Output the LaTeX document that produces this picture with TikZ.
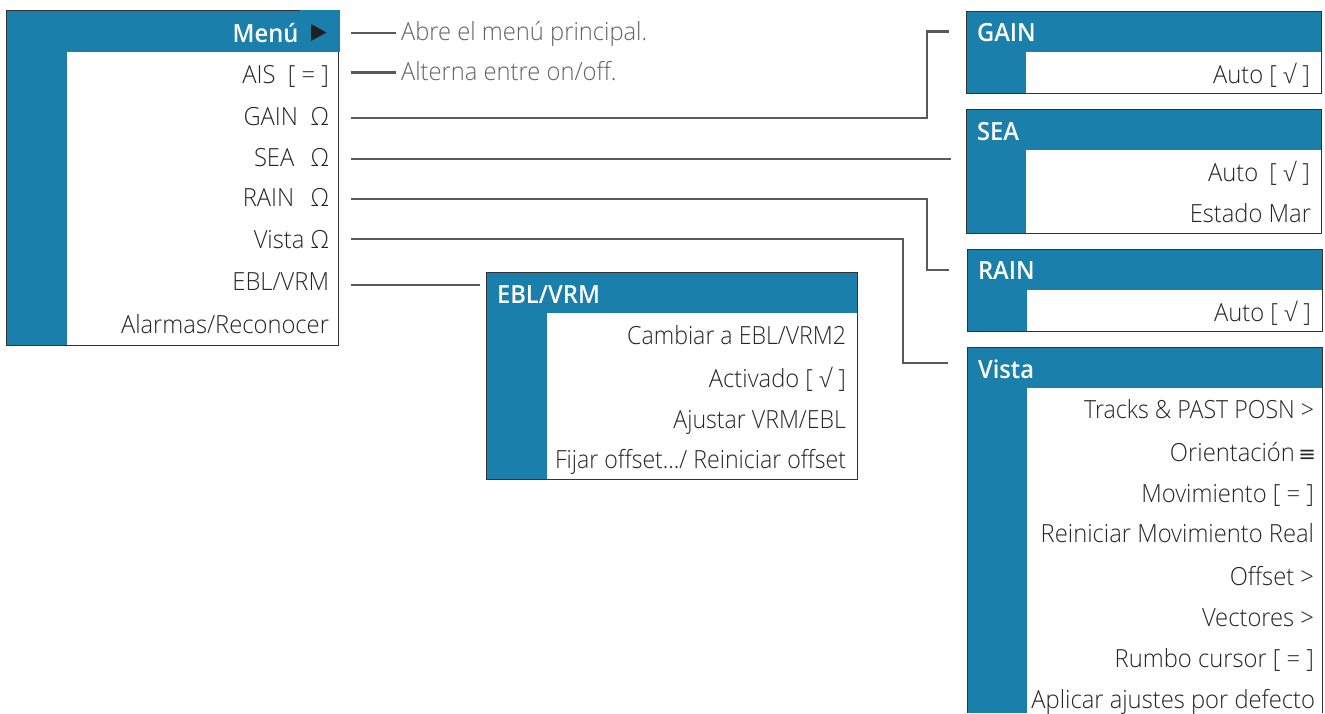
\documentclass[tikz,border=0pt]{standalone}
\usepackage{fontspec}
\setmainfont{Open Sans Light}[BoldFont={Open Sans Semibold},FakeStretch=0.95]
\newfontface\narrowf{Open Sans Light}[FakeStretch=0.925]
\newfontfamily\symf{DejaVu Sans}
\definecolor{menublue}{RGB}{26,127,171}
\definecolor{frameg}{RGB}{51,51,53}
\definecolor{linkg}{RGB}{88,89,91}
\definecolor{itemg}{RGB}{38,38,40}
\definecolor{noteg}{RGB}{100,100,103}
\tikzset{
 panelbox/.style={draw=frameg,line width=1pt,fill=menublue,inner sep=0pt,outer sep=0pt,anchor=north west},
 inner/.style={fill=white,draw=none,inner sep=0pt,outer sep=0pt,anchor=north west},
 txt/.style={inner sep=0pt,outer sep=0pt,text height=19pt,text depth=5pt,font=\fontsize{25}{28}\selectfont},
 item/.style={txt,anchor=east,text=itemg},
 itemn/.style={item,font=\fontsize{25}{28}\narrowf},
 note/.style={txt,anchor=west,text=noteg},
 title/.style={txt,anchor=west,text=white,font=\fontsize{25}{28}\selectfont\bfseries},
 link/.style={draw=linkg,line width=2.2pt}
}
\begin{document}
\begin{tikzpicture}[x=1pt,y=-1pt]
\useasboundingbox (0,0) rectangle (1325,713);
% main menu
\node[panelbox,minimum width=332pt,minimum height=335pt] (mainP) at (6,10) {};
\node[inner,minimum width=270.5pt,minimum height=292.5pt] (mainW) at (67,52) {};
\fill[menublue] (300,10) rectangle (339.5,52);
\node[title,anchor=east] (menu) at (298.5,35) {Menú};
\fill[black!88] (311,24) -- (326.5,32.5) -- (311,41) -- cycle;
\node[item] (ais) at (329,76) {AIS\hspace{0.5em}[ = ]};
\node[item] (gain) at (329,118) {GAIN\hspace{0.5em}Ω};
\node[item] (sea) at (329,159) {SEA\hspace{0.65em}Ω};
\node[item] (rain) at (329,199) {RAIN\hspace{0.65em}Ω};
\node[item] (vista) at (329,241) {Vista Ω};
\node[item] (ebl) at (329,283) {EBL/VRM};
\node[item] (alarm) at (329,326) {Alarmas/Reconocer};
% notes
\node[note] (n1) at (401,33) {Abre el menú principal.};
\node[note] (n2) at (401,73) {Alterna entre on/off.};
% GAIN
\node[panelbox,minimum width=355.5pt,minimum height=82pt] (gainP) at (966,11) {};
\node[inner,minimum width=295pt,minimum height=40.5pt] (gainW) at (1026,52) {};
\node[title] (gainT) at (977,34) {GAIN};
\node[item] (gainA) at (1310,76) {Auto [ √ ]};
% SEA
\node[panelbox,minimum width=355.5pt,minimum height=124pt] (seaP) at (966,109) {};
\node[inner,minimum width=295pt,minimum height=82.5pt] (seaW) at (1026,150) {};
\node[title] (seaT) at (977,133) {SEA};
\node[item] (seaA) at (1310,174) {Auto\hspace{0.45em}[ √ ]};
\node[item] (seaM) at (1311,215) {Estado Mar};
% RAIN
\node[panelbox,minimum width=355.5pt,minimum height=82pt] (rainP) at (967,249) {};
\node[inner,minimum width=295pt,minimum height=40.5pt] (rainW) at (1027,290) {};
\node[title] (rainT) at (978,272) {RAIN};
\node[item] (rainA) at (1311,314) {Auto [ √ ]};
% EBL
\node[panelbox,minimum width=371pt,minimum height=207pt] (eblP) at (486,272) {};
\node[inner,minimum width=309.5pt,minimum height=165.5pt] (eblW) at (547,313) {};
\node[title] (eblT) at (497,296) {EBL/VRM};
\node[itemn] (e1) at (846,337) {Cambiar a EBL/VRM2};
\node[item] (e2) at (846,380) {Activado [ √ ]};
\node[itemn] (e3) at (846,421) {Ajustar VRM/EBL};
\node[itemn] (e4) at (846,461) {Fijar offset.../ Reiniciar offset};
% Vista
\fill[menublue] (967,347) rectangle (1322.5,713);
\draw[frameg,line width=1pt] (967,713) -- (967,347) -- (1322.5,347) -- (1322.5,713);
\node[inner,minimum width=295pt,minimum height=325pt] (vistaW) at (1027,388) {};
\node[title] (vistaT) at (978,371) {Vista};
\node[itemn] (v1) at (1314,411) {Tracks \& PAST POSN >};
\node[item] (v2) at (1316,454) {Orientación{\symf\fontsize{21}{24}\selectfont\,≡}};
\node[item] (v3) at (1314,495) {Movimiento [ = ]};
\node[item] (v4) at (1314,535) {Reiniciar Movimiento Real};
\node[item] (v5) at (1314,578) {Offset >};
\node[item] (v6) at (1314,619) {Vectores >};
\node[item] (v7) at (1314,660) {Rumbo cursor [ = ]};
\node[item] (v8) at (1315,701) {Aplicar ajustes por defecto};
% connector ends
\coordinate (gainIn) at (949,31.5);
\coordinate (seaIn) at (951,159);
\coordinate (rainIn) at (949,270);
\coordinate (vistaIn) at (948,363);
\coordinate (eblIn) at (480,285);
\coordinate (s0) at (351,33);
\coordinate (s1) at (351,72.5);
% connectors
\draw[link] (s0) -- ([xshift=-5pt]n1.west |- s0);
\draw[link] (s1) -- ([xshift=-5pt]n2.west |- s1);
\draw[link] ([xshift=22pt]gain.east) -| (927,31.5) -- (gainIn);
\draw[link] ([xshift=22pt]sea.east) -- (seaIn);
\draw[link] ([xshift=22pt]rain.east) -| (927,270) -- (rainIn);
\draw[link] ([xshift=22pt,yshift=2pt]vista.east) -| (903,363) -- (vistaIn);
\draw[link] ([xshift=22pt,yshift=-2pt]ebl.east) -- (eblIn);
\end{tikzpicture}
\end{document}
